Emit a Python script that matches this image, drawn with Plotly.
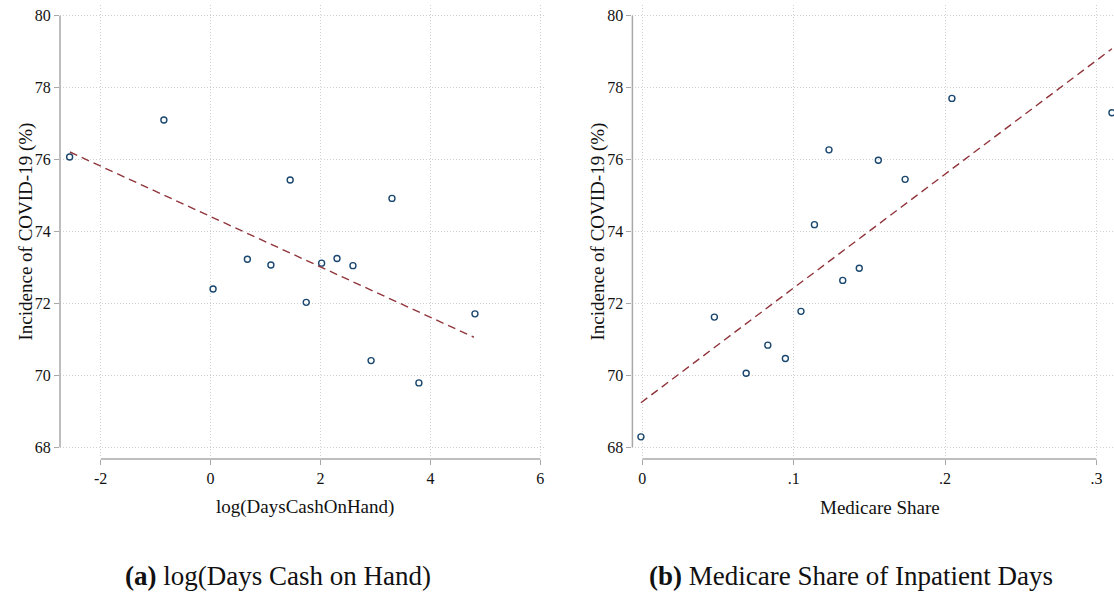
import plotly.graph_objects as go

# ---- data ----
cash_x = [-2.565, -0.85, 0.045, 0.669, 1.097, 1.448, 1.74, 2.02, 2.30, 2.59, 2.92, 3.30, 3.79, 4.81]
cash_y = [76.07, 77.10, 72.40, 73.23, 73.07, 75.43, 72.03, 73.12, 73.25, 73.05, 70.41, 74.92, 69.79, 71.71]
cash_fit_x = [-2.56, 4.79]
cash_fit_y = [76.21, 71.06]

med_x = [-0.0009, 0.0476, 0.0686, 0.0829, 0.0945, 0.1048, 0.1137, 0.1233, 0.1324, 0.1433, 0.1559, 0.1736, 0.2045, 0.3102]
med_y = [68.29, 71.62, 70.06, 70.84, 70.47, 71.78, 74.19, 76.27, 72.64, 72.98, 75.98, 75.45, 77.70, 77.30]
med_fit_x = [-0.0009, 0.3102]
med_fit_y = [69.24, 79.08]

y_ticks = [68, 70, 72, 74, 76, 78, 80]
cash_ticks = [-2, 0, 2, 4, 6]
cash_tick_text = ["-2", "0", "2", "4", "6"]
med_ticks = [0, 0.1, 0.2, 0.3]
med_tick_text = ["0", ".1", ".2", ".3"]

y_title = "Incidence of COVID-19 (%)"
cash_title = "log(DaysCashOnHand)"
med_title = "Medicare Share"
cap_a = "<b>(a)</b> log(Days Cash on Hand)"
cap_b = "<b>(b)</b> Medicare Share of Inpatient Days"

# ---- styling ----
W, H = 1114, 593
def px(p):   # horizontal pixel -> paper
    return p / W
def py(p):   # vertical pixel (from top) -> paper
    return (H - p) / H

NAVY = "#1a476f"
MAROON = "#90353b"
AXIS = "#a8a8a8"
GRID = "#d0d0d0"
FONT = "Liberation Serif"

fig = go.Figure()
fig.add_trace(go.Scatter(x=cash_x, y=cash_y, mode="markers", xaxis="x", yaxis="y",
                         marker=dict(symbol="circle-open", size=6, color=NAVY, line=dict(width=1.4, color=NAVY)),
                         cliponaxis=True, showlegend=False))
fig.add_trace(go.Scatter(x=cash_fit_x, y=cash_fit_y, mode="lines", xaxis="x", yaxis="y",
                         line=dict(color=MAROON, width=1.4, dash="8px,5px"), showlegend=False))
fig.add_trace(go.Scatter(x=med_x, y=med_y, mode="markers", xaxis="x2", yaxis="y2",
                         marker=dict(symbol="circle-open", size=6, color=NAVY, line=dict(width=1.4, color=NAVY)),
                         cliponaxis=True, showlegend=False))
fig.add_trace(go.Scatter(x=med_fit_x, y=med_fit_y, mode="lines", xaxis="x2", yaxis="y2",
                         line=dict(color=MAROON, width=1.4, dash="8px,5px"), showlegend=False))

ydom = [py(457), py(5)]
yrng = [68 - (457 - 447.3) / 35.97, 80 + (15.7 - 5) / 35.97]

tickfont = dict(family=FONT, size=16, color="#111")
common_x = dict(showline=False, zeroline=False, showgrid=True, gridcolor=GRID, griddash="1px,2px", gridwidth=1,
                ticks="outside", ticklen=5, tickwidth=1.2, tickcolor=AXIS,
                tickfont=tickfont, anchor="free", position=py(459))
common_y = dict(showline=False, zeroline=False, showgrid=True, gridcolor=GRID, griddash="1px,2px", gridwidth=1,
                ticks="outside", ticklen=5, tickwidth=1.2, tickcolor=AXIS, range=yrng, domain=ydom,
                tickvals=y_ticks, tickfont=tickfont)

fig.update_layout(
    width=W, height=H, margin=dict(l=0, r=0, t=0, b=0),
    paper_bgcolor="white", plot_bgcolor="white",
    xaxis=dict(common_x, domain=[px(60), px(546)], range=[(60 - 210.6) / 54.96, (546 - 210.6) / 54.96],
               tickvals=cash_ticks, ticktext=cash_tick_text),
    yaxis=dict(common_y, anchor="x"),
    xaxis2=dict(common_x, domain=[px(632.4), 1.0], range=[(632.4 - 642.3) / 1514, (1114 - 642.3) / 1514],
                tickvals=med_ticks, ticktext=med_tick_text),
    yaxis2=dict(common_y, anchor="x2"),
)

shapes = [
    dict(type="line", xref="paper", yref="y", x0=px(60), x1=px(60), y0=68, y1=80,
         line=dict(color=AXIS, width=1.5)),
    dict(type="line", xref="x", yref="paper", x0=-2, x1=6, y0=py(459), y1=py(459),
         line=dict(color=AXIS, width=1.5)),
    dict(type="line", xref="paper", yref="y2", x0=px(632.4), x1=px(632.4), y0=68, y1=80,
         line=dict(color=AXIS, width=1.5)),
    dict(type="line", xref="x2", yref="paper", x0=0, x1=0.3, y0=py(459), y1=py(459),
         line=dict(color=AXIS, width=1.5)),
]
fig.update_layout(shapes=shapes)

tfont = dict(family=FONT, size=19, color="#111")
cfont = dict(family=FONT, size=27, color="#111")
annotations = [
    dict(text=y_title, x=px(25), y=py(231.5), xref="paper", yref="paper", textangle=-90,
         showarrow=False, font=tfont, xanchor="center", yanchor="middle"),
    dict(text=y_title, x=px(597), y=py(231.5), xref="paper", yref="paper", textangle=-90,
         showarrow=False, font=tfont, xanchor="center", yanchor="middle"),
    dict(text=cash_title, x=px(305), y=py(507), xref="paper", yref="paper",
         showarrow=False, font=tfont, xanchor="center", yanchor="middle"),
    dict(text=med_title, x=px(880), y=py(507), xref="paper", yref="paper",
         showarrow=False, font=tfont, xanchor="center", yanchor="middle"),
    dict(text=cap_a, x=px(278), y=py(576), xref="paper", yref="paper",
         showarrow=False, font=cfont, xanchor="center", yanchor="middle"),
    dict(text=cap_b, x=px(851), y=py(576), xref="paper", yref="paper",
         showarrow=False, font=cfont, xanchor="center", yanchor="middle"),
]
fig.update_layout(annotations=annotations)

fig.write_html("out.html", config={"displayModeBar": False},
               post_script="document.body.style.margin='0';document.body.style.overflow='hidden';")
